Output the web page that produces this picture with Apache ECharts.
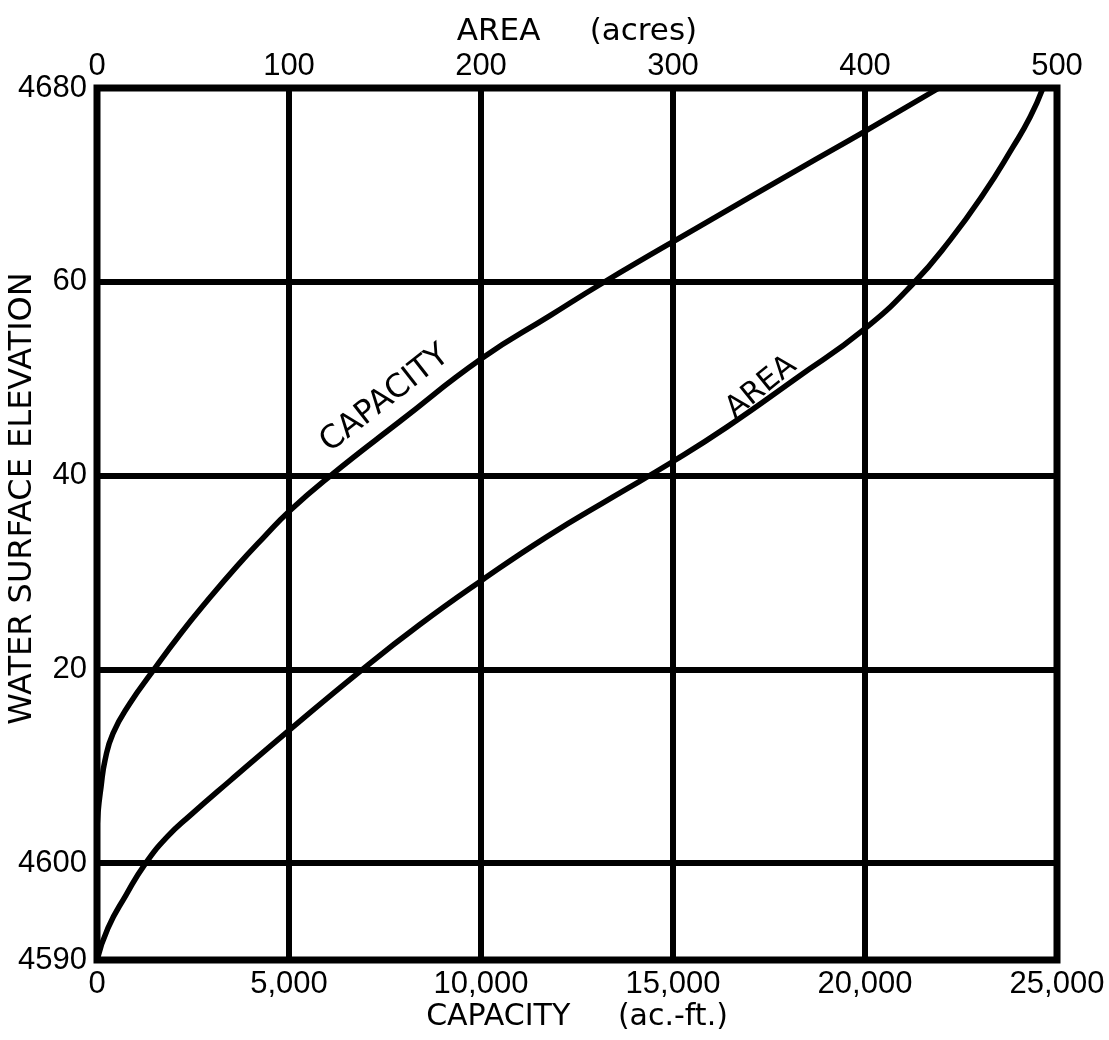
<!DOCTYPE html>
<html><head><meta charset="utf-8">
<script src="https://cdn.jsdelivr.net/npm/echarts@6/dist/echarts.min.js"></script>
<style>html,body{margin:0;padding:0;background:#fff}#c{width:1109px;height:1040px}</style>
</head><body><div id="c"></div>
<script>
// Capacity curve: [capacity (ac.-ft.), water surface elevation (ft)]
const capacityPoints = [
  [0, 4603.1], [26, 4605.2], [104, 4607.85], [208, 4610.6], [417, 4613.4],
  [859, 4616.5], [1432, 4619.7], [2161, 4623.6], [2865, 4627.05], [3646, 4630.65],
  [4323, 4633.55], [5026, 4636.4], [6068, 4639.95], [7891, 4645.6], [10026, 4652.1],
  [11797, 4656.5], [13177, 4659.9], [15703, 4665.75], [18307, 4671.7], [20052, 4675.65],
  [21927, 4680]
];
// Area curve: [area (acres), water surface elevation (ft)]
const areaPoints = [
  [0, 4590], [5.7, 4593.3], [15.1, 4596.7], [25, 4599.9],
  [36.5, 4602.7], [48.4, 4604.9], [69.3, 4608.5], [100, 4613.7], [137, 4619.8],
  [168, 4624.6], [200.5, 4629.2], [234.4, 4633.7], [268.8, 4637.8], [299.5, 4641.4],
  [328, 4645], [364.6, 4650.1], [399, 4655], [425, 4659.8], [444.3, 4664.3],
  [461.5, 4669], [477, 4673.9], [486, 4677], [492.7, 4680]
];
const capacityTickValues = [0, 5000, 10000, 15000, 20000, 25000];
const capacityTickLabels = ['0', '5,000', '10,000', '15,000', '20,000', '25,000'];
const areaTickValues = [0, 100, 200, 300, 400, 500];
const areaTickLabels = ['0', '100', '200', '300', '400', '500'];
const elevationTickValues = [4590, 4600, 4620, 4640, 4660, 4680];
const elevationTickLabels = ['4590', '4600', '20', '40', '60', '4680'];
// curve label anchors (data units)
const capacityLabelAt = [7500, 4647.9];
const areaLabelAt = [346, 4649.1];

const TICKFONT = 'Liberation Sans';
const TITLEFONT = 'DejaVu Sans';
const lbl = (vals, labs) => v => { const i = vals.indexOf(v); return i >= 0 ? labs[i] : ''; };

const chart = echarts.init(document.getElementById('c'), null, {renderer: 'canvas'});
chart.setOption({
  animation: false,
  backgroundColor: '#fff',
  grid: {left: 97, right: 52, top: 88, bottom: 80, outerBoundsMode: 'none', containLabel: false,
         show: true, borderColor: '#000', borderWidth: 7, backgroundColor: 'transparent'},
  xAxis: [
    {
      type: 'value', position: 'bottom', min: 0, max: 25000, interval: 5000,
      name: 'CAPACITY     (ac.-ft.)', nameLocation: 'middle', nameGap: 42, nameMoveOverlap: false,
      nameTextStyle: {fontFamily: TITLEFONT, fontSize: 30, color: '#000'},
      axisLine: {show: false}, axisTick: {show: false},
      axisLabel: {margin: 9, fontFamily: TICKFONT, fontSize: 31, color: '#000', formatter: lbl(capacityTickValues, capacityTickLabels)},
      splitLine: {show: true, lineStyle: {color: '#000', width: 6}}
    },
    {
      type: 'value', position: 'top', min: 0, max: 500, interval: 100,
      name: 'AREA     (acres)', nameLocation: 'middle', nameGap: 41, nameMoveOverlap: false,
      nameTextStyle: {fontFamily: TITLEFONT, fontSize: 31, color: '#000'},
      axisLine: {show: false}, axisTick: {show: false},
      axisLabel: {margin: 6, fontFamily: TICKFONT, fontSize: 31, color: '#000', formatter: lbl(areaTickValues, areaTickLabels)},
      splitLine: {show: false}
    }
  ],
  yAxis: {
    type: 'value', min: 4590, max: 4680, splitNumber: 5,
    name: '     WATER SURFACE ELEVATION', nameLocation: 'middle', nameGap: 58, nameMoveOverlap: false,
    nameTextStyle: {fontFamily: TITLEFONT, fontSize: 32, color: '#000'},
    axisLine: {show: false}, axisTick: {show: false},
    axisLabel: {margin: 10, fontFamily: TICKFONT, fontSize: 31, color: '#000', customValues: elevationTickValues, formatter: lbl(elevationTickValues, elevationTickLabels)},
    splitLine: {show: true, lineStyle: {color: '#000', width: 6}}
  },
  series: [
    {
      name: 'CAPACITY', type: 'line', xAxisIndex: 0, yAxisIndex: 0, data: capacityPoints,
      smooth: 0.5, symbol: 'none', lineStyle: {color: '#000', width: 5.5}, z: 5,
      markPoint: {
        symbol: 'circle', symbolSize: 1, itemStyle: {color: 'rgba(0,0,0,0)'},
        label: {show: true, position: 'inside', formatter: 'CAPACITY', rotate: 38, fontFamily: TITLEFONT, fontSize: 32, color: '#000'},
        data: [{coord: capacityLabelAt}]
      }
    },
    {
      name: 'AREA', type: 'line', xAxisIndex: 1, yAxisIndex: 0, data: areaPoints,
      smooth: 0.5, symbol: 'none', lineStyle: {color: '#000', width: 5.5}, z: 5,
      markPoint: {
        symbol: 'circle', symbolSize: 1, itemStyle: {color: 'rgba(0,0,0,0)'},
        label: {show: true, position: 'inside', formatter: 'AREA', rotate: 39, fontFamily: TITLEFONT, fontSize: 30, color: '#000'},
        data: [{coord: areaLabelAt}]
      }
    }
  ]
});
</script>
</body></html>
